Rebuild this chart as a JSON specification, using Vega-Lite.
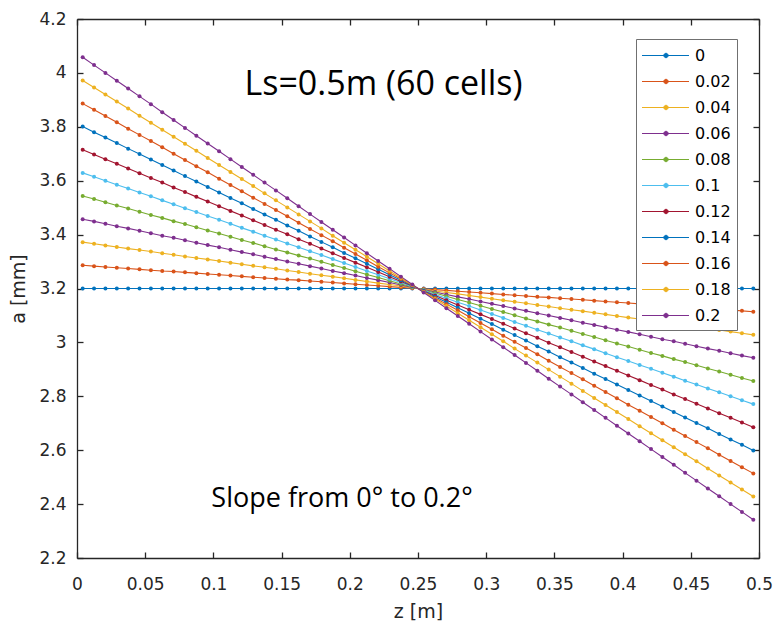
{
"$schema":"https://vega.github.io/schema/vega-lite/v6.json",
"width":682,"height":539,"autosize":"none",
"padding":{"left":77,"top":19,"right":14,"bottom":67},
"background":"white",
"config":{"view":{"stroke":null},
"axis":{"domainColor":"#262626","domainWidth":1.3,"tickColor":"#262626","tickWidth":1.3,"tickSize":-6,"grid":false,"labelFont":"DejaVu Sans","labelFontSize":17,"labelColor":"#262626","titleFont":"DejaVu Sans","titleFontSize":19,"titleColor":"#262626","titleFontWeight":"normal"}},
"data":{"values":[
{"z":0.00417,"k0":3.2,"k1":3.286,"k2":3.372,"k3":3.457,"k4":3.543,"k5":3.629,"k6":3.715,"k7":3.801,"k8":3.886,"k9":3.972,"k10":4.058},
{"z":0.0125,"k0":3.2,"k1":3.283,"k2":3.366,"k3":3.449,"k4":3.532,"k5":3.615,"k6":3.697,"k7":3.780,"k8":3.863,"k9":3.946,"k10":4.029},
{"z":0.02083,"k0":3.2,"k1":3.280,"k2":3.360,"k3":3.440,"k4":3.520,"k5":3.600,"k6":3.680,"k7":3.760,"k8":3.840,"k9":3.920,"k10":4.000},
{"z":0.02917,"k0":3.2,"k1":3.277,"k2":3.354,"k3":3.431,"k4":3.508,"k5":3.585,"k6":3.663,"k7":3.740,"k8":3.817,"k9":3.894,"k10":3.971},
{"z":0.0375,"k0":3.2,"k1":3.274,"k2":3.348,"k3":3.423,"k4":3.497,"k5":3.571,"k6":3.645,"k7":3.719,"k8":3.793,"k9":3.868,"k10":3.942},
{"z":0.04583,"k0":3.2,"k1":3.271,"k2":3.343,"k3":3.414,"k4":3.485,"k5":3.556,"k6":3.628,"k7":3.699,"k8":3.770,"k9":3.841,"k10":3.913},
{"z":0.05417,"k0":3.2,"k1":3.268,"k2":3.337,"k3":3.405,"k4":3.473,"k5":3.542,"k6":3.610,"k7":3.679,"k8":3.747,"k9":3.815,"k10":3.884},
{"z":0.0625,"k0":3.2,"k1":3.265,"k2":3.331,"k3":3.396,"k4":3.462,"k5":3.527,"k6":3.593,"k7":3.658,"k8":3.724,"k9":3.789,"k10":3.854},
{"z":0.07083,"k0":3.2,"k1":3.263,"k2":3.325,"k3":3.388,"k4":3.450,"k5":3.513,"k6":3.575,"k7":3.638,"k8":3.700,"k9":3.763,"k10":3.825},
{"z":0.07917,"k0":3.2,"k1":3.260,"k2":3.319,"k3":3.379,"k4":3.439,"k5":3.498,"k6":3.558,"k7":3.617,"k8":3.677,"k9":3.737,"k10":3.796},
{"z":0.0875,"k0":3.2,"k1":3.257,"k2":3.313,"k3":3.370,"k4":3.427,"k5":3.484,"k6":3.540,"k7":3.597,"k8":3.654,"k9":3.711,"k10":3.767},
{"z":0.09583,"k0":3.2,"k1":3.254,"k2":3.308,"k3":3.361,"k4":3.415,"k5":3.469,"k6":3.523,"k7":3.577,"k8":3.631,"k9":3.684,"k10":3.738},
{"z":0.10417,"k0":3.2,"k1":3.251,"k2":3.302,"k3":3.353,"k4":3.404,"k5":3.455,"k6":3.505,"k7":3.556,"k8":3.607,"k9":3.658,"k10":3.709},
{"z":0.1125,"k0":3.2,"k1":3.248,"k2":3.296,"k3":3.344,"k4":3.392,"k5":3.440,"k6":3.488,"k7":3.536,"k8":3.584,"k9":3.632,"k10":3.680},
{"z":0.12083,"k0":3.2,"k1":3.245,"k2":3.290,"k3":3.335,"k4":3.380,"k5":3.425,"k6":3.471,"k7":3.516,"k8":3.561,"k9":3.606,"k10":3.651},
{"z":0.12917,"k0":3.2,"k1":3.242,"k2":3.284,"k3":3.327,"k4":3.369,"k5":3.411,"k6":3.453,"k7":3.495,"k8":3.537,"k9":3.580,"k10":3.622},
{"z":0.1375,"k0":3.2,"k1":3.239,"k2":3.279,"k3":3.318,"k4":3.357,"k5":3.396,"k6":3.436,"k7":3.475,"k8":3.514,"k9":3.553,"k10":3.593},
{"z":0.14583,"k0":3.2,"k1":3.236,"k2":3.273,"k3":3.309,"k4":3.345,"k5":3.382,"k6":3.418,"k7":3.455,"k8":3.491,"k9":3.527,"k10":3.564},
{"z":0.15417,"k0":3.2,"k1":3.233,"k2":3.267,"k3":3.300,"k4":3.334,"k5":3.367,"k6":3.401,"k7":3.434,"k8":3.468,"k9":3.501,"k10":3.535},
{"z":0.1625,"k0":3.2,"k1":3.231,"k2":3.261,"k3":3.292,"k4":3.322,"k5":3.353,"k6":3.383,"k7":3.414,"k8":3.444,"k9":3.475,"k10":3.505},
{"z":0.17083,"k0":3.2,"k1":3.228,"k2":3.255,"k3":3.283,"k4":3.311,"k5":3.338,"k6":3.366,"k7":3.393,"k8":3.421,"k9":3.449,"k10":3.476},
{"z":0.17917,"k0":3.2,"k1":3.225,"k2":3.249,"k3":3.274,"k4":3.299,"k5":3.324,"k6":3.348,"k7":3.373,"k8":3.398,"k9":3.423,"k10":3.447},
{"z":0.1875,"k0":3.2,"k1":3.222,"k2":3.244,"k3":3.265,"k4":3.287,"k5":3.309,"k6":3.331,"k7":3.353,"k8":3.375,"k9":3.396,"k10":3.418},
{"z":0.19583,"k0":3.2,"k1":3.219,"k2":3.238,"k3":3.257,"k4":3.276,"k5":3.295,"k6":3.313,"k7":3.332,"k8":3.351,"k9":3.370,"k10":3.389},
{"z":0.20417,"k0":3.2,"k1":3.216,"k2":3.232,"k3":3.248,"k4":3.264,"k5":3.280,"k6":3.296,"k7":3.312,"k8":3.328,"k9":3.344,"k10":3.360},
{"z":0.2125,"k0":3.2,"k1":3.213,"k2":3.226,"k3":3.239,"k4":3.252,"k5":3.265,"k6":3.279,"k7":3.292,"k8":3.305,"k9":3.318,"k10":3.331},
{"z":0.22083,"k0":3.2,"k1":3.210,"k2":3.220,"k3":3.231,"k4":3.241,"k5":3.251,"k6":3.261,"k7":3.271,"k8":3.281,"k9":3.292,"k10":3.302},
{"z":0.22917,"k0":3.2,"k1":3.207,"k2":3.215,"k3":3.222,"k4":3.229,"k5":3.236,"k6":3.244,"k7":3.251,"k8":3.258,"k9":3.265,"k10":3.273},
{"z":0.2375,"k0":3.2,"k1":3.204,"k2":3.209,"k3":3.213,"k4":3.217,"k5":3.222,"k6":3.226,"k7":3.231,"k8":3.235,"k9":3.239,"k10":3.244},
{"z":0.24583,"k0":3.2,"k1":3.201,"k2":3.203,"k3":3.204,"k4":3.206,"k5":3.207,"k6":3.209,"k7":3.210,"k8":3.212,"k9":3.213,"k10":3.215},
{"z":0.25417,"k0":3.2,"k1":3.199,"k2":3.197,"k3":3.196,"k4":3.194,"k5":3.193,"k6":3.191,"k7":3.190,"k8":3.188,"k9":3.187,"k10":3.185},
{"z":0.2625,"k0":3.2,"k1":3.196,"k2":3.191,"k3":3.187,"k4":3.183,"k5":3.178,"k6":3.174,"k7":3.169,"k8":3.165,"k9":3.161,"k10":3.156},
{"z":0.27083,"k0":3.2,"k1":3.193,"k2":3.185,"k3":3.178,"k4":3.171,"k5":3.164,"k6":3.156,"k7":3.149,"k8":3.142,"k9":3.135,"k10":3.127},
{"z":0.27917,"k0":3.2,"k1":3.190,"k2":3.180,"k3":3.169,"k4":3.159,"k5":3.149,"k6":3.139,"k7":3.129,"k8":3.119,"k9":3.108,"k10":3.098},
{"z":0.2875,"k0":3.2,"k1":3.187,"k2":3.174,"k3":3.161,"k4":3.148,"k5":3.135,"k6":3.121,"k7":3.108,"k8":3.095,"k9":3.082,"k10":3.069},
{"z":0.29583,"k0":3.2,"k1":3.184,"k2":3.168,"k3":3.152,"k4":3.136,"k5":3.120,"k6":3.104,"k7":3.088,"k8":3.072,"k9":3.056,"k10":3.040},
{"z":0.30417,"k0":3.2,"k1":3.181,"k2":3.162,"k3":3.143,"k4":3.124,"k5":3.105,"k6":3.087,"k7":3.068,"k8":3.049,"k9":3.030,"k10":3.011},
{"z":0.3125,"k0":3.2,"k1":3.178,"k2":3.156,"k3":3.135,"k4":3.113,"k5":3.091,"k6":3.069,"k7":3.047,"k8":3.025,"k9":3.004,"k10":2.982},
{"z":0.32083,"k0":3.2,"k1":3.175,"k2":3.151,"k3":3.126,"k4":3.101,"k5":3.076,"k6":3.052,"k7":3.027,"k8":3.002,"k9":2.977,"k10":2.953},
{"z":0.32917,"k0":3.2,"k1":3.172,"k2":3.145,"k3":3.117,"k4":3.089,"k5":3.062,"k6":3.034,"k7":3.007,"k8":2.979,"k9":2.951,"k10":2.924},
{"z":0.3375,"k0":3.2,"k1":3.169,"k2":3.139,"k3":3.108,"k4":3.078,"k5":3.047,"k6":3.017,"k7":2.986,"k8":2.956,"k9":2.925,"k10":2.895},
{"z":0.34583,"k0":3.2,"k1":3.167,"k2":3.133,"k3":3.100,"k4":3.066,"k5":3.033,"k6":2.999,"k7":2.966,"k8":2.932,"k9":2.899,"k10":2.865},
{"z":0.35417,"k0":3.2,"k1":3.164,"k2":3.127,"k3":3.091,"k4":3.055,"k5":3.018,"k6":2.982,"k7":2.945,"k8":2.909,"k9":2.873,"k10":2.836},
{"z":0.3625,"k0":3.2,"k1":3.161,"k2":3.121,"k3":3.082,"k4":3.043,"k5":3.004,"k6":2.964,"k7":2.925,"k8":2.886,"k9":2.847,"k10":2.807},
{"z":0.37083,"k0":3.2,"k1":3.158,"k2":3.116,"k3":3.073,"k4":3.031,"k5":2.989,"k6":2.947,"k7":2.905,"k8":2.863,"k9":2.820,"k10":2.778},
{"z":0.37917,"k0":3.2,"k1":3.155,"k2":3.110,"k3":3.065,"k4":3.020,"k5":2.975,"k6":2.929,"k7":2.884,"k8":2.839,"k9":2.794,"k10":2.749},
{"z":0.3875,"k0":3.2,"k1":3.152,"k2":3.104,"k3":3.056,"k4":3.008,"k5":2.960,"k6":2.912,"k7":2.864,"k8":2.816,"k9":2.768,"k10":2.720},
{"z":0.39583,"k0":3.2,"k1":3.149,"k2":3.098,"k3":3.047,"k4":2.996,"k5":2.945,"k6":2.895,"k7":2.844,"k8":2.793,"k9":2.742,"k10":2.691},
{"z":0.40417,"k0":3.2,"k1":3.146,"k2":3.092,"k3":3.039,"k4":2.985,"k5":2.931,"k6":2.877,"k7":2.823,"k8":2.769,"k9":2.716,"k10":2.662},
{"z":0.4125,"k0":3.2,"k1":3.143,"k2":3.087,"k3":3.030,"k4":2.973,"k5":2.916,"k6":2.860,"k7":2.803,"k8":2.746,"k9":2.689,"k10":2.633},
{"z":0.42083,"k0":3.2,"k1":3.140,"k2":3.081,"k3":3.021,"k4":2.961,"k5":2.902,"k6":2.842,"k7":2.783,"k8":2.723,"k9":2.663,"k10":2.604},
{"z":0.42917,"k0":3.2,"k1":3.137,"k2":3.075,"k3":3.012,"k4":2.950,"k5":2.887,"k6":2.825,"k7":2.762,"k8":2.700,"k9":2.637,"k10":2.575},
{"z":0.4375,"k0":3.2,"k1":3.135,"k2":3.069,"k3":3.004,"k4":2.938,"k5":2.873,"k6":2.807,"k7":2.742,"k8":2.676,"k9":2.611,"k10":2.546},
{"z":0.44583,"k0":3.2,"k1":3.132,"k2":3.063,"k3":2.995,"k4":2.927,"k5":2.858,"k6":2.790,"k7":2.721,"k8":2.653,"k9":2.585,"k10":2.516},
{"z":0.45417,"k0":3.2,"k1":3.129,"k2":3.057,"k3":2.986,"k4":2.915,"k5":2.844,"k6":2.772,"k7":2.701,"k8":2.630,"k9":2.559,"k10":2.487},
{"z":0.4625,"k0":3.2,"k1":3.126,"k2":3.052,"k3":2.977,"k4":2.903,"k5":2.829,"k6":2.755,"k7":2.681,"k8":2.607,"k9":2.532,"k10":2.458},
{"z":0.47083,"k0":3.2,"k1":3.123,"k2":3.046,"k3":2.969,"k4":2.892,"k5":2.815,"k6":2.737,"k7":2.660,"k8":2.583,"k9":2.506,"k10":2.429},
{"z":0.47917,"k0":3.2,"k1":3.120,"k2":3.040,"k3":2.960,"k4":2.880,"k5":2.800,"k6":2.720,"k7":2.640,"k8":2.560,"k9":2.480,"k10":2.400},
{"z":0.4875,"k0":3.2,"k1":3.117,"k2":3.034,"k3":2.951,"k4":2.868,"k5":2.785,"k6":2.703,"k7":2.620,"k8":2.537,"k9":2.454,"k10":2.371},
{"z":0.49583,"k0":3.2,"k1":3.114,"k2":3.028,"k3":2.943,"k4":2.857,"k5":2.771,"k6":2.685,"k7":2.599,"k8":2.514,"k9":2.428,"k10":2.342}
]},
"transform":[{"fold":["k0","k1","k2","k3","k4","k5","k6","k7","k8","k9","k10"],"as":["s","a"]}],
"layer":[
{"mark":{"type":"line","strokeWidth":1.1,"point":{"filled":true,"size":16}},
"encoding":{
"x":{"field":"z","type":"quantitative","scale":{"domain":[0,0.5],"nice":false,"zero":false},
"axis":{"orient":"bottom","title":"z [m]","values":[0,0.05,0.1,0.15,0.2,0.25,0.3,0.35,0.4,0.45,0.5],"format":"~g","labelPadding":24,"labelFlush":false,"titleY":53,"titleBaseline":"middle"}},
"y":{"field":"a","type":"quantitative","scale":{"domain":[2.2,4.2],"nice":false,"zero":false},
"axis":{"orient":"left","title":"a [mm]","values":[2.2,2.4,2.6,2.8,3,3.2,3.4,3.6,3.8,4,4.2],"format":"~g","labelPadding":17,"labelFlush":false,"titleX":-59,"titleBaseline":"middle"}},
"color":{"field":"s","type":"nominal",
"scale":{"domain":["k0","k1","k2","k3","k4","k5","k6","k7","k8","k9","k10"],"range":["#0072BD","#D95319","#EDB120","#7E2F8E","#77AC30","#4DBEEE","#A2142F","#0072BD","#D95319","#EDB120","#7E2F8E"]},
"legend":{"title":null,"orient":"none","legendX":559,"legendY":20,"padding":6,"rowPadding":7,"labelOffset":32,
"symbolSize":400,"symbolType":"M-1.05,0H3.65M1.13,0A0.22,0.22,0,1,0,1.57,0A0.22,0.22,0,1,0,1.13,0Z","symbolStrokeWidth":1,
"labelFont":"DejaVu Sans","labelFontSize":16,"labelColor":"#000000","strokeColor":"#707070","fillColor":"white",
"labelExpr":"['0','0.02','0.04','0.06','0.08','0.1','0.12','0.14','0.16','0.18','0.2'][indexof(['k0','k1','k2','k3','k4','k5','k6','k7','k8','k9','k10'], datum.label)]",
"encode":{"symbols":{"update":{"fill":{"scale":"color","field":"value"},"stroke":{"scale":"color","field":"value"},"opacity":{"value":1}}}}}}
}},
{"mark":{"type":"point","opacity":0},
"encoding":{
"x":{"field":"z","type":"quantitative","axis":{"orient":"top","title":null,"labels":false,"values":[0,0.05,0.1,0.15,0.2,0.25,0.3,0.35,0.4,0.45,0.5]}},
"y":{"field":"a","type":"quantitative","axis":{"orient":"right","title":null,"labels":false,"values":[2.2,2.4,2.6,2.8,3,3.2,3.4,3.6,3.8,4,4.2]}}
}},
{"data":{"values":[{"t":"Ls=0.5m (60 cells)"}]},
"mark":{"type":"text","font":"Open Sans","fontSize":34,"align":"center","baseline":"alphabetic","color":"#000000"},
"encoding":{"x":{"datum":0.2247,"type":"quantitative","axis":null},"y":{"datum":3.918,"type":"quantitative","axis":null},"text":{"field":"t"}}},
{"data":{"values":[{"t":"Slope from 0° to 0.2°"}]},
"mark":{"type":"text","font":"Open Sans","fontSize":27,"align":"center","baseline":"alphabetic","color":"#000000"},
"encoding":{"x":{"datum":0.1943,"type":"quantitative","axis":null},"y":{"datum":2.389,"type":"quantitative","axis":null},"text":{"field":"t"}}}
],
"resolve":{"axis":{"x":"independent","y":"independent"}}
}
